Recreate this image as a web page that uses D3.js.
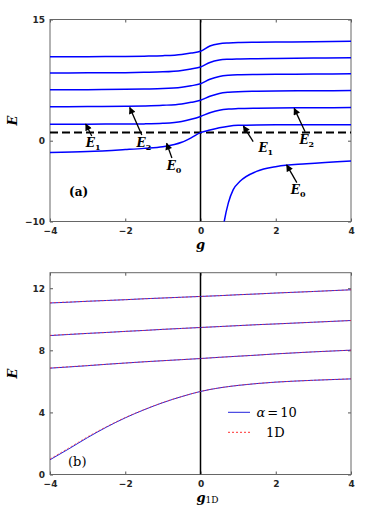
<!DOCTYPE html>
<html>
<head>
<meta charset="utf-8">
<script src="https://d3js.org/d3.v7.min.js"></script>
<style>
  body { margin: 0; background: #fff; }
  .tick text { font: bold 9px "DejaVu Sans", sans-serif; fill: #262626; }
  .tick line { stroke: #555; }
  .serif { font-family: "DejaVu Serif", serif; fill: #000; }
</style>
</head>
<body>
<script>
// ---- panel (a): E vs g ----
var gTop = [-4, -3, -2, -1.5, -1, -0.5, -0.25, 0, 0.25, 0.5, 0.75, 1, 1.5, 2, 3, 4];
var levelsTop = [
  [-1.45, -1.35, -1.1, -0.95, -0.74, -0.2, 0.35, 1.0, 1.32, 1.6, 1.8, 1.9, 1.95, 1.96, 1.97, 1.97],
  [2.05, 2.05, 2.06, 2.08, 2.15, 2.38, 2.65, 3.0, 3.46, 3.78, 3.92, 3.97, 4.02, 4.05, 4.08, 4.1],
  [4.2, 4.22, 4.26, 4.3, 4.38, 4.55, 4.75, 5.0, 5.5, 5.85, 6.0, 6.07, 6.12, 6.15, 6.18, 6.2],
  [6.3, 6.32, 6.36, 6.4, 6.45, 6.62, 6.8, 7.05, 7.6, 7.95, 8.1, 8.16, 8.2, 8.22, 8.25, 8.28],
  [8.38, 8.4, 8.42, 8.46, 8.52, 8.7, 8.88, 9.12, 9.68, 9.98, 10.08, 10.12, 10.15, 10.18, 10.22, 10.28],
  [10.38, 10.4, 10.42, 10.46, 10.52, 10.68, 10.85, 11.08, 11.72, 12.0, 12.1, 12.15, 12.18, 12.2, 12.25, 12.3]
];
// bound branch for g > 0
var gBound = [0.6, 0.63, 0.74, 0.87, 1.05, 1.49, 2.03, 2.82, 4];
var eBound = [-10.8, -10, -7.7, -6.06, -5.03, -3.8, -3.18, -2.85, -2.51];
var dashedE = 1;
var yTicksTop = [-10, 0, 15];
var xTicks = [-4, -2, 0, 2, 4];

// arrows: tip, tail, label (g, E)
var arrows = [
  {sub: "1", tip: [-3.05, 2.06], tail: [-2.89, 0.58], lab: [-3.05, -0.78]},
  {sub: "2", tip: [-1.88, 4.12], tail: [-1.56, 0.7], lab: [-1.7, -0.78]},
  {sub: "0", tip: [-0.9, -0.32], tail: [-0.76, -2.14], lab: [-0.9, -3.6]},
  {sub: "1", tip: [1.14, 1.81], tail: [1.4, -0.12], lab: [1.54, -1.4]},
  {sub: "2", tip: [2.49, 4.0], tail: [2.78, 1.11], lab: [2.63, -0.41]},
  {sub: "0", tip: [2.29, -3.0], tail: [2.56, -5.19], lab: [2.4, -6.58]}
];

// ---- panel (b): E vs g_1D ----
var gBot = [-4, -3.5, -3, -2.5, -2, -1.5, -1, -0.5, 0, 0.5, 1, 1.5, 2, 3, 4];
var alpha10 = [
  [0.95, 1.65, 2.38, 3.05, 3.65, 4.17, 4.63, 5.02, 5.35, 5.58, 5.74, 5.86, 5.95, 6.07, 6.16],
  [6.85, 6.93, 7.01, 7.1, 7.18, 7.26, 7.33, 7.4, 7.47, 7.55, 7.62, 7.69, 7.77, 7.9, 8.01],
  [8.95, 9.02, 9.09, 9.15, 9.22, 9.28, 9.35, 9.41, 9.47, 9.53, 9.59, 9.65, 9.7, 9.81, 9.92],
  [11.05, 11.1, 11.16, 11.21, 11.26, 11.32, 11.37, 11.42, 11.47, 11.52, 11.58, 11.63, 11.69, 11.79, 11.9]
];
var oneD = [
  [1.0, 1.71, 2.43, 3.08, 3.67, 4.18, 4.64, 5.02, 5.35, 5.58, 5.74, 5.86, 5.95, 6.07, 6.16],
  [6.86, 6.94, 7.02, 7.1, 7.18, 7.26, 7.33, 7.4, 7.47, 7.55, 7.62, 7.69, 7.77, 7.9, 8.01],
  [8.96, 9.03, 9.09, 9.15, 9.22, 9.28, 9.35, 9.41, 9.47, 9.53, 9.59, 9.65, 9.7, 9.81, 9.92],
  [11.06, 11.11, 11.16, 11.21, 11.26, 11.32, 11.37, 11.42, 11.47, 11.52, 11.58, 11.63, 11.69, 11.79, 11.9]
];
var yTicksBot = [0, 4, 8, 12];

var W = 390, H = 505;
var svg = d3.select("body").append("svg")
  .attr("width", W).attr("height", H);

svg.append("defs").append("marker")
  .attr("id", "head")
  .attr("viewBox", "0 0 10 10")
  .attr("refX", 9).attr("refY", 5)
  .attr("markerWidth", 8).attr("markerHeight", 7)
  .attr("markerUnits", "userSpaceOnUse")
  .attr("orient", "auto")
  .append("path").attr("d", "M0,0 L10,5 L0,10 z").attr("fill", "#000");

function panel(id, top, bottom, yDomain, yTicks) {
  var x = d3.scaleLinear().domain([-4, 4]).range([50, 351]);
  var y = d3.scaleLinear().domain(yDomain).range([bottom, top]);
  var g = svg.append("g");

  g.append("clipPath").attr("id", id)
    .append("rect").attr("x", 50).attr("y", top)
    .attr("width", 301).attr("height", bottom - top);

  // ticks on all four sides, pointing inward
  g.append("g").attr("transform", "translate(0," + bottom + ")")
    .call(d3.axisBottom(x).tickValues(xTicks).tickSize(-3).tickPadding(6).tickFormat(d3.format("d")))
    .call(a => a.select(".domain").remove());
  g.append("g").attr("transform", "translate(0," + top + ")")
    .call(d3.axisTop(x).tickValues(xTicks).tickSize(-3).tickFormat(""))
    .call(a => a.select(".domain").remove());
  g.append("g").attr("transform", "translate(50,0)")
    .call(d3.axisLeft(y).tickValues(yTicks).tickSize(-3).tickPadding(5).tickFormat(d3.format("d")))
    .call(a => a.select(".domain").remove());
  g.append("g").attr("transform", "translate(351,0)")
    .call(d3.axisRight(y).tickValues(yTicks).tickSize(-3).tickFormat(""))
    .call(a => a.select(".domain").remove());

  g.append("rect").attr("x", 50).attr("y", top)
    .attr("width", 301).attr("height", bottom - top)
    .attr("fill", "none").attr("stroke", "#666").attr("stroke-width", 1);

  var plot = g.append("g").attr("clip-path", "url(#" + id + ")");
  return {x: x, y: y, g: g, plot: plot};
}

// ---------- (a) ----------
var A = panel("clipA", 19.5, 221.5, [-10, 15], yTicksTop);
var lineA = d3.line().curve(d3.curveMonotoneX)
  .x(d => A.x(d[0])).y(d => A.y(d[1]));

A.plot.append("line")
  .attr("x1", A.x(0)).attr("x2", A.x(0))
  .attr("y1", A.y(-10)).attr("y2", A.y(15))
  .attr("stroke", "#000").attr("stroke-width", 1.5);

A.plot.append("line")
  .attr("x1", A.x(-4)).attr("x2", A.x(4))
  .attr("y1", A.y(dashedE)).attr("y2", A.y(dashedE))
  .attr("stroke", "#000").attr("stroke-width", 2)
  .attr("stroke-dasharray", "8,4");

A.plot.selectAll(".lev")
  .data(levelsTop)
  .enter().append("path")
  .attr("d", vals => lineA(gTop.map((gv, i) => [gv, vals[i]])))
  .attr("fill", "none").attr("stroke", "#0000ff").attr("stroke-width", 1.5);

A.plot.append("path")
  .attr("d", lineA(gBound.map((gv, i) => [gv, eBound[i]])))
  .attr("fill", "none").attr("stroke", "#0000ff").attr("stroke-width", 1.5);

A.g.selectAll(".arr")
  .data(arrows)
  .enter().append("line")
  .attr("x1", d => A.x(d.tail[0])).attr("y1", d => A.y(d.tail[1]))
  .attr("x2", d => A.x(d.tip[0])).attr("y2", d => A.y(d.tip[1]))
  .attr("stroke", "#000").attr("stroke-width", 1.3)
  .attr("marker-end", "url(#head)");

var labs = A.g.selectAll(".elab")
  .data(arrows)
  .enter().append("text")
  .attr("class", "serif")
  .attr("x", d => A.x(d.lab[0])).attr("y", d => A.y(d.lab[1]))
  .style("font-size", "12px").style("font-weight", "bold").style("font-style", "italic");
labs.append("tspan").text("E");
labs.append("tspan").attr("dy", 3).style("font-size", "8px").style("font-style", "normal")
  .text(d => d.sub);

A.g.append("text").attr("class", "serif")
  .attr("x", 69).attr("y", 196)
  .style("font-size", "12px").style("font-weight", "bold")
  .text("(a)");

A.g.append("text").attr("class", "serif")
  .attr("transform", "translate(17,120.5) rotate(-90)")
  .attr("text-anchor", "middle")
  .style("font-size", "13px").style("font-weight", "bold").style("font-style", "italic")
  .text("E");

A.g.append("text").attr("class", "serif")
  .attr("x", A.x(0)).attr("y", 249)
  .attr("text-anchor", "middle")
  .style("font-size", "13px").style("font-weight", "bold").style("font-style", "italic")
  .text("g");

// ---------- (b) ----------
var B = panel("clipB", 272.7, 474.5, [0, 13], yTicksBot);
var lineB = d3.line().curve(d3.curveMonotoneX)
  .x(d => B.x(d[0])).y(d => B.y(d[1]));

B.plot.append("line")
  .attr("x1", B.x(0)).attr("x2", B.x(0))
  .attr("y1", B.y(0)).attr("y2", B.y(13))
  .attr("stroke", "#000").attr("stroke-width", 1.5);

B.plot.selectAll(".al")
  .data(alpha10)
  .enter().append("path")
  .attr("d", vals => lineB(gBot.map((gv, i) => [gv, vals[i]])))
  .attr("fill", "none").attr("stroke", "#2222dd").attr("stroke-width", 1);

B.plot.selectAll(".od")
  .data(oneD)
  .enter().append("path")
  .attr("d", vals => lineB(gBot.map((gv, i) => [gv, vals[i]])))
  .attr("fill", "none").attr("stroke", "#ff3030").attr("stroke-opacity", 0.75)
  .attr("stroke-width", 1).attr("stroke-dasharray", "2,2");

// legend
var leg = B.g.append("g");
leg.append("line").attr("x1", 228).attr("x2", 250).attr("y1", 412.3).attr("y2", 412.3)
  .attr("stroke", "#2222dd").attr("stroke-width", 1);
var lt = leg.append("text").attr("class", "serif").attr("x", 256.5).attr("y", 416.5)
  .style("font-size", "13px");
lt.append("tspan").style("font-style", "italic").text("α");
lt.append("tspan").attr("dx", 2).text("=");
lt.append("tspan").attr("dx", 2).text("10");
leg.append("line").attr("x1", 228).attr("x2", 251).attr("y1", 432.3).attr("y2", 432.3)
  .attr("stroke", "#ff3030").attr("stroke-width", 1).attr("stroke-dasharray", "2,2");
leg.append("text").attr("class", "serif").attr("x", 266).attr("y", 437)
  .style("font-size", "13px").text("1D");

B.g.append("text").attr("class", "serif")
  .attr("x", 68).attr("y", 466)
  .style("font-size", "13px")
  .text("(b)");

B.g.append("text").attr("class", "serif")
  .attr("transform", "translate(17,373.6) rotate(-90)")
  .attr("text-anchor", "middle")
  .style("font-size", "13px").style("font-weight", "bold").style("font-style", "italic")
  .text("E");

var gl = B.g.append("text").attr("class", "serif")
  .attr("x", 196.5).attr("y", 502)
  .style("font-size", "13px");
gl.append("tspan").style("font-weight", "bold").style("font-style", "italic").text("g");
gl.append("tspan").attr("dy", 1).style("font-size", "9px").text("1D");
</script>
</body>
</html>
